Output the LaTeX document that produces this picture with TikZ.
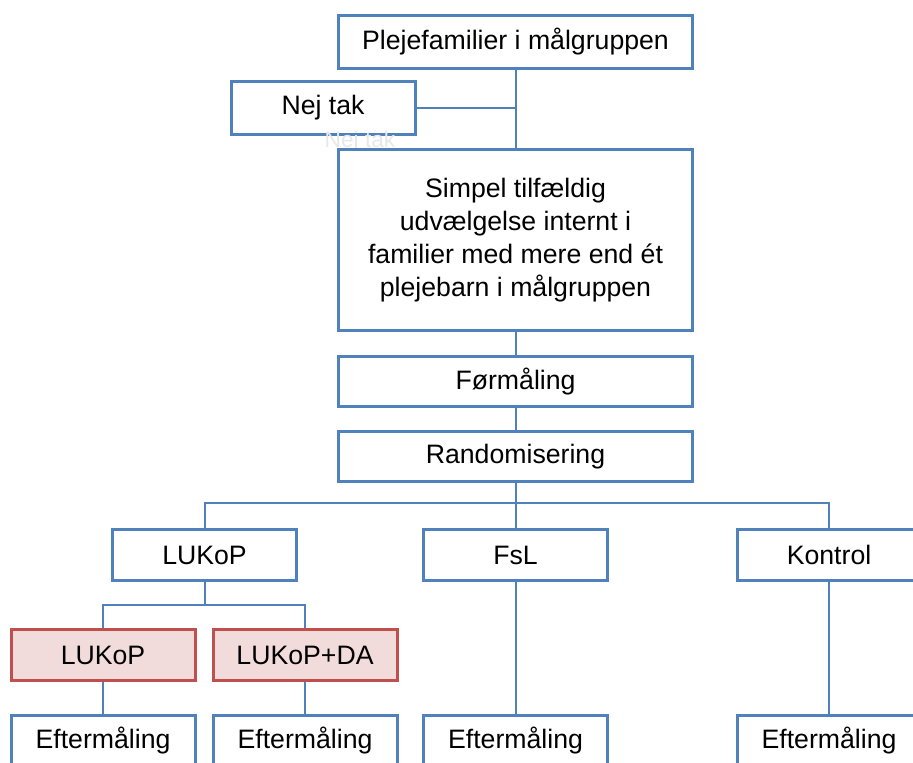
\documentclass[tikz,border=0pt]{standalone}
\usepackage{fontspec}
\setmainfont{Liberation Sans}
\usepackage{tikz}
\definecolor{boxblue}{HTML}{4F81BD}
\definecolor{boxred}{HTML}{C0504D}
\definecolor{boxpink}{HTML}{F2DCDB}

\begin{document}
\begin{tikzpicture}
  [x=0.75pt,y=-0.75pt,
   every node/.style={rectangle, draw=boxblue, line width=2.25pt, fill=white, inner sep=0pt,
     align=center, font=\fontsize{20}{24.75}\selectfont},
   wide/.style={minimum width=265.5pt, minimum height=37.5pt},
   small/.style={minimum width=138pt, minimum height=38.25pt},
   redbox/.style={small, draw=boxred, fill=boxpink},
   link/.style={draw=boxblue, line width=1.5pt}]
  \useasboundingbox (0,0) rectangle (913,763);

  \node[wide, minimum height=39.75pt] (top) at (515.5,42) {Plejefamilier i målgruppen};
  \node[small, minimum height=39.75pt] (nej) at (323,108) {Nej tak};
  \node[draw=none, fill=none, text=black!9, font=\fontsize{17}{19}\selectfont] (ghost) at (360,142) {Nej tak};
  \node[wide, minimum height=135.75pt] (simpel) at (515.5,240)
    {Simpel tilfældig\\udvælgelse internt i\\familier med mere end ét\\plejebarn i målgruppen};
  \node[wide] (formal) at (515.5,381.5) {Førmåling};
  \node[wide] (rand) at (515.5,456.5) {Randomisering};
  \coordinate (split) at (515.5,503);

  \node[small] (lukop) at (204.5,555) {LUKoP};
  \node[small] (fsl) at (515.5,555) {FsL};
  \node[small] (kontrol) at (829,555) {Kontrol};
  \coordinate (splitb) at (204.5,605);

  \node[redbox] (lukopa) at (103,655) {LUKoP};
  \node[redbox] (lukopda) at (305,655) {LUKoP+DA};

  \node[small] (eftera) at (103,741) {Eftermåling};
  \node[small] (efterb) at (305,741) {Eftermåling};
  \node[small] (efterc) at (515.5,741) {Eftermåling};
  \node[small] (efterd) at (829,741) {Eftermåling};

  \draw[link] (nej) -- (nej -| top);
  \foreach \from/\to in {top/simpel,simpel/formal,formal/rand,rand/split,lukop/splitb,
      lukopa/eftera,lukopda/efterb,fsl/efterc,kontrol/efterd}
    \draw[link] (\from) -- (\to);
  \foreach \to in {lukop,fsl,kontrol}
    \draw[link] (split) -| (\to.north);
  \foreach \to in {lukopa,lukopda}
    \draw[link] (splitb) -| (\to.north);
\end{tikzpicture}
\end{document}
